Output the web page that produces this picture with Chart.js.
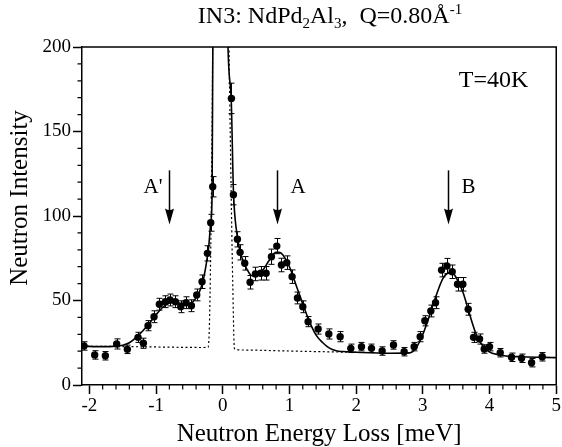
<!DOCTYPE html>
<html>
<head>
<meta charset="utf-8">
<script src="https://cdn.jsdelivr.net/npm/chart.js@4.4.1/dist/chart.umd.min.js"></script>
<style>
html,body{margin:0;padding:0;background:#fff;}
#wrap{width:562px;height:447px;position:relative;}
</style>
</head>
<body>
<div id="wrap"><canvas id="c" width="562" height="447"></canvas></div>
<script>
// ---- data ----
const energy = [-2.08,-1.92,-1.76,-1.59,-1.43,-1.27,-1.19,-1.12,-1.03,-0.95,-0.86,-0.79,-0.71,-0.63,-0.55,-0.47,-0.39,-0.31,-0.23,-0.18,-0.15,
  0.13,0.16,0.22,0.26,0.33,0.41,0.49,0.57,0.65,0.73,0.81,0.88,0.96,1.04,1.12,1.20,1.28,1.43,1.59,1.76,1.92,2.08,2.23,2.39,2.56,2.72,2.87,2.96,3.03,3.12,
  3.19,3.28,3.36,3.44,3.52,3.60,3.68,3.76,3.85,3.92,4.00,4.16,4.33,4.48,4.63,4.79];
const intensity = [23.1,17.8,17.3,24.3,21.1,28.2,24.7,35.1,40.4,47.8,49.3,50.3,49.3,46.3,48.7,46.9,53.3,61.1,77.9,96.0,117.3,
  169.6,112.6,86.2,78.5,72.0,60.8,65.7,66.1,66.1,75.9,82.2,71.0,72.4,64.1,51.5,46.3,37.5,33.1,30.2,28.6,21.7,22.7,21.7,20.1,23.7,19.7,22.7,28.6,38.0,43.8,
  48.7,68.0,70.4,67.0,59.6,59.6,44.8,28.2,27.2,21.3,22.7,19.1,16.4,15.8,13.2,16.7];
const errors = [2.5,2.5,2.5,3,2.5,3,3,3,3.5,3.5,3.5,3.5,3.5,3.5,3.5,3.5,3.5,4,4.5,5,6,
  9,6,4.5,4.5,4,4,4,4,4,4.5,4.5,4,4,4,3.5,3.5,3,3,3,3,2.5,2.5,2.5,2.5,2.5,2.5,2.5,3,3,3.5,
  3.5,4,4.5,4,4,4,3.5,3,3,2.5,2.5,2.5,2.5,2.5,2.5,2.5];

const fitX = [-2.11,-1.8,-1.6,-1.5,-1.4,-1.3,-1.2,-1.1,-1.0,-0.9,-0.8,-0.7,-0.6,-0.5,-0.4,-0.35,-0.3,-0.25,-0.21,-0.18,
  -0.16,-0.145,0,0.07,0.126,0.16,0.21,0.26,0.32,0.4,0.45,0.5,0.6,0.7,0.8,0.85,0.9,1.0,1.1,1.2,
  1.3,1.4,1.5,1.6,1.7,1.8,2.0,2.5,2.8,2.9,3.0,3.1,3.2,3.3,3.4,3.45,3.5,3.6,3.7,3.8,3.9,4.0,4.2,4.5,5.0];
const fitY = [23,22.7,23,23.5,25,28,32,36.5,41.5,46,48.5,49,48,48,51.5,55,61,71,82,96,
  112,230,600,215,170,115,90,79,72,66,64.5,65,68,74,78.5,78.5,77,70,59,48,
  37.5,29.5,25,21.8,20.3,19.8,19.4,18.8,19,22,30,41,53,63,66.5,66.3,63.5,55,42,30,23,19.5,17.5,16.7,16.2];

const elasticX = [-2.11,-1.0,-0.3,-0.22,-0.2,-0.18,-0.16,-0.145,0,0.09,0.12,0.15,0.175,0.3,1.0,2.0];
const elasticY = [23,22.5,22.2,22.3,35,80,150,230,600,215,130,60,21.5,20.7,20.1,19.3];

const xTicks = [-2,-1,0,1,2,3,4,5];
const yTicks = [0,50,100,150,200];

const arrowX = [-0.8, 0.81, 3.38];
const arrowLabels = ["A'", "A", "B"];

const titleText = ["IN3: NdPd", "2", "Al", "3", ",  Q=0.80Å", "-1"];
const xTitle = "Neutron Energy Loss [meV]";
const yTitle = "Neutron Intensity";
const tempLabel = "T=40K";

// ---- drawing ----
const FONT = "'Liberation Serif','Times New Roman',Times,serif";
Chart.defaults.font.family = FONT;
Chart.defaults.color = '#000';

const extras = {
  id: 'extras',
  beforeDatasetsDraw(chart) {
    const {ctx, chartArea: a, scales: {x, y}} = chart;
    ctx.save();
    ctx.beginPath(); ctx.rect(a.left, a.top, a.width, a.height); ctx.clip();
    ctx.strokeStyle = '#000'; ctx.lineWidth = 1;
    energy.forEach((e, i) => {
      const px = Math.round(x.getPixelForValue(e)) + 0.5;
      const t = y.getPixelForValue(intensity[i] + errors[i]);
      const b = y.getPixelForValue(intensity[i] - errors[i]);
      ctx.beginPath();
      ctx.moveTo(px, t); ctx.lineTo(px, b);
      ctx.moveTo(px - 3, t); ctx.lineTo(px + 3, t);
      ctx.moveTo(px - 3, b); ctx.lineTo(px + 3, b);
      ctx.stroke();
    });
    ctx.restore();
  },
  afterDraw(chart) {
    const {ctx, chartArea: a, scales: {x, y}} = chart;
    const o = chart.options.plugins.extras;
    ctx.save();
    ctx.strokeStyle = '#000';
    ctx.fillStyle = '#000';
    // top and right frame
    ctx.lineWidth = 1.5;
    ctx.beginPath();
    ctx.moveTo(a.left, a.top); ctx.lineTo(a.right, a.top); ctx.lineTo(a.right, a.bottom);
    ctx.stroke();
    // minor ticks
    ctx.lineWidth = 1.2;
    ctx.beginPath();
    for (let k = Math.ceil(x.min * 5); k <= Math.floor(x.max * 5); k++) {
      if (k % 5 === 0) continue;
      const px = x.getPixelForValue(k / 5);
      ctx.moveTo(px, a.bottom); ctx.lineTo(px, a.bottom + 4.5);
    }
    for (let k = 0; k <= 20; k++) {
      if (k % 5 === 0) continue;
      const py = y.getPixelForValue(k * 10);
      ctx.moveTo(a.left, py); ctx.lineTo(a.left - 4.5, py);
    }
    ctx.stroke();

    // title with sub/superscripts
    const big = '24px ' + FONT, small = '15px ' + FONT;
    const kinds = [0, 1, 0, 1, 0, -1];
    let total = 0;
    const widths = titleText.map((s, i) => {
      ctx.font = kinds[i] === 0 ? big : small;
      const w = ctx.measureText(s).width; total += w; return w;
    });
    let cx = o.titleCenter - total / 2;
    ctx.textBaseline = 'alphabetic';
    ctx.textAlign = 'left';
    titleText.forEach((s, i) => {
      ctx.font = kinds[i] === 0 ? big : small;
      const dy = kinds[i] === 1 ? 5 : (kinds[i] === -1 ? -9 : 0);
      ctx.fillText(s, cx, o.titleBaseline + dy);
      cx += widths[i];
    });

    // axis titles
    ctx.font = '25px ' + FONT;
    ctx.textAlign = 'center';
    ctx.fillText(xTitle, (a.left + a.right) / 2, o.xTitleBaseline);
    ctx.save();
    ctx.translate(o.yTitleBaseline, o.yTitleCenter);
    ctx.rotate(-Math.PI / 2);
    ctx.fillText(yTitle, 0, 0);
    ctx.restore();

    // T label
    ctx.font = '24px ' + FONT;
    ctx.textAlign = 'right';
    ctx.fillText(tempLabel, a.right - 28, a.top + 40);

    // arrows
    ctx.lineWidth = 1.5;
    ctx.font = '21px ' + FONT;
    arrowX.forEach((ax, i) => {
      const px = Math.round(x.getPixelForValue(ax)) + 0.5;
      const top = y.getPixelForValue(o.arrowTop);
      const tip = y.getPixelForValue(o.arrowTip);
      ctx.beginPath();
      ctx.moveTo(px, top); ctx.lineTo(px, tip - 12);
      ctx.stroke();
      ctx.beginPath();
      ctx.moveTo(px - 4.5, tip - 16);
      ctx.quadraticCurveTo(px, tip - 13, px + 4.5, tip - 16);
      ctx.lineTo(px, tip);
      ctx.closePath();
      ctx.fill();
      const left = i === 0;
      ctx.textAlign = left ? 'right' : 'left';
      ctx.fillText(arrowLabels[i], left ? px - 7 : px + 13, top + 23);
    });
    ctx.restore();
  }
};

const ctxEl = document.getElementById('c');
new Chart(ctxEl, {
  type: 'scatter',
  data: {
    datasets: [
      {
        label: 'data',
        data: energy.map((e, i) => ({x: e, y: intensity[i]})),
        pointRadius: 3.7,
        pointBackgroundColor: '#000',
        pointBorderWidth: 0,
        showLine: false
      },
      {
        label: 'fit',
        data: fitX.map((e, i) => ({x: e, y: fitY[i]})),
        showLine: true,
        borderColor: '#000',
        borderWidth: 1.6,
        pointRadius: 0,
        cubicInterpolationMode: 'monotone',
        fill: false
      },
      {
        label: 'elastic',
        data: elasticX.map((e, i) => ({x: e, y: elasticY[i]})),
        showLine: true,
        borderColor: '#000',
        borderWidth: 1.2,
        borderDash: [2, 2.5],
        pointRadius: 0,
        cubicInterpolationMode: 'monotone',
        fill: false
      }
    ]
  },
  options: {
    responsive: false,
    animation: false,
    devicePixelRatio: 1,
    layout: {padding: {top: 47, right: 5, left: 0, bottom: 0}},
    plugins: {
      legend: {display: false},
      tooltip: {enabled: false},
      extras: {
        titleCenter: 330, titleBaseline: 23,
        xTitleBaseline: 441, yTitleBaseline: 27, yTitleCenter: 198,
        arrowTop: 127, arrowTip: 95
      }
    },
    scales: {
      x: {
        type: 'linear', min: -2.11, max: 5,
        afterBuildTicks: s => { s.ticks = xTicks.map(v => ({value: v})); },
        afterFit: s => { s.height = 62; },
        ticks: {font: {size: 19}, padding: 1, maxRotation: 0, autoSkip: false, color: '#000'},
        grid: {display: true, drawOnChartArea: false, drawTicks: true, tickLength: 9, tickWidth: 1.5, color: '#000'},
        border: {display: true, width: 1.5, color: '#000'}
      },
      y: {
        type: 'linear', min: 0, max: 200,
        afterBuildTicks: s => { s.ticks = yTicks.map(v => ({value: v})); },
        afterFit: s => { s.width = 82; },
        ticks: {font: {size: 19}, padding: 2, color: '#000'},
        grid: {display: true, drawOnChartArea: false, drawTicks: true, tickLength: 9, tickWidth: 1.5, color: '#000'},
        border: {display: true, width: 1.5, color: '#000'}
      }
    }
  },
  plugins: [extras]
});
</script>
</body>
</html>
